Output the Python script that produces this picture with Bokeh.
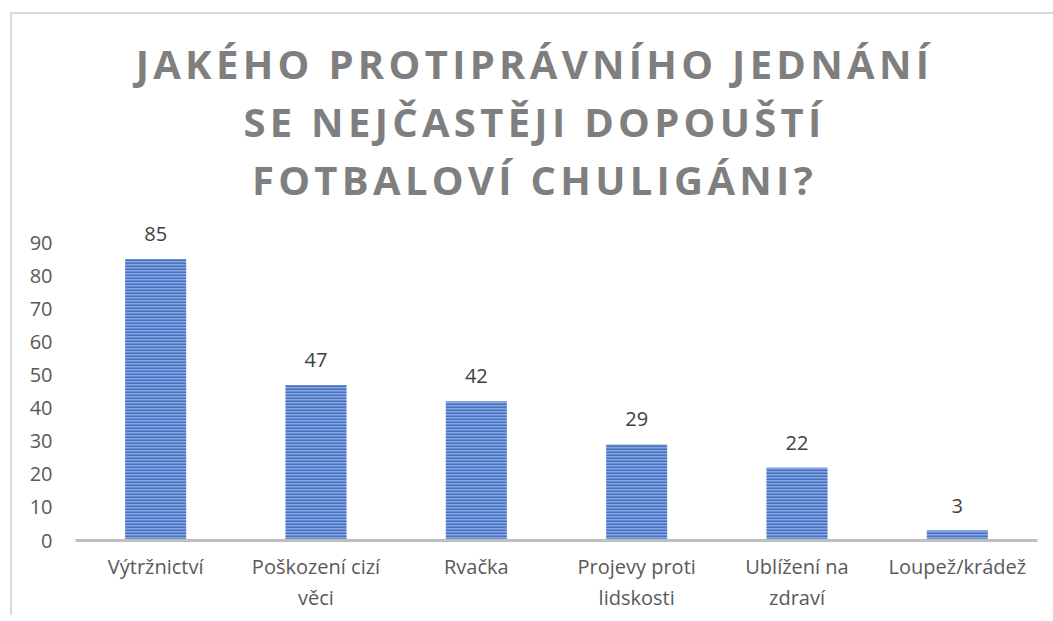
from bokeh.plotting import figure
from bokeh.models import (ColumnDataSource, FactorRange, Range1d, FixedTicker, LabelSet,
                          CategoricalAxis, CustomJSTickFormatter, Div)
from bokeh.layouts import column
from bokeh.core.properties import value
from bokeh.embed import file_html
from bokeh.resources import INLINE

# ---- data ----
categories = ["Výtržnictví", "Poškození cizí věci", "Rvačka", "Projevy proti lidskosti",
              "Ublížení na zdraví", "Loupež/krádež"]
label_line1 = ["Výtržnictví", "Poškození cizí", "Rvačka", "Projevy proti",
               "Ublížení na", "Loupež/krádež"]
label_line2 = ["", "věci", "", "lidskosti", "zdraví", ""]
counts = [85, 47, 42, 29, 22, 3]
y_ticks = [0, 10, 20, 30, 40, 50, 60, 70, 80, 90]
title_lines = ["JAKÉHO PROTIPRÁVNÍHO JEDNÁNÍ", "SE NEJČASTĚJI DOPOUŠTÍ", "FOTBALOVÍ CHULIGÁNI?"]

FONT = "Open Sans"

source = ColumnDataSource(data=dict(cat=categories, val=counts, lab=[str(v) for v in counts]))

title_html = (
    '<div style="padding-top:16px; padding-left:16px; width:1019px; text-align:center; '
    'font-family:\'Open Sans\'; font-weight:bold; font-size:40px; line-height:58px; '
    'letter-spacing:4.3px; color:#7f7f7f; white-space:nowrap;">'
    + "<br>".join(title_lines) + "</div>"
)
title_div = Div(text=title_html, width=1035, height=180)

p = figure(
    x_range=FactorRange(factors=categories, range_padding=0),
    y_range=Range1d(0, 90 * 321 / 298),
    frame_width=962, frame_height=321,
    min_border_left=63, min_border_top=15, min_border_right=10, min_border_bottom=75,
    output_backend="svg", toolbar_location=None, title=None,
    background_fill_color="white", border_fill_color="white",
)
p.outline_line_color = None

p.vbar(x="cat", top="val", width=0.38, source=source,
       fill_color="#8aa6de", line_color=None,
       hatch_pattern="horizontal_line", hatch_color="#4472c4",
       hatch_scale=3, hatch_weight=2)

labels = LabelSet(x="cat", y="val", text="lab", source=source,
                  text_align="center", text_baseline="alphabetic", y_offset=18,
                  text_font=value(FONT), text_font_size="20px", text_color="#404040")
p.add_layout(labels)

# axes
p.xgrid.grid_line_color = None
p.ygrid.grid_line_color = None

fmt_code = "const i = cats.indexOf(tick); return i >= 0 ? names[i] : tick;"

xa = p.xaxis[0]
xa.axis_line_color = "#bfbfbf"
xa.axis_line_width = 3
xa.major_tick_line_color = None
xa.minor_tick_line_color = None
xa.formatter = CustomJSTickFormatter(args=dict(cats=categories, names=label_line1), code=fmt_code)
xa.major_label_text_font = FONT
xa.major_label_text_font_size = "20px"
xa.major_label_text_color = "#595959"
xa.major_label_standoff = 6
xa.major_label_orientation = "horizontal"

xa2 = CategoricalAxis(
    axis_line_color=None, major_tick_line_color=None, minor_tick_line_color=None,
    formatter=CustomJSTickFormatter(args=dict(cats=categories, names=label_line2), code=fmt_code),
    major_label_text_font=FONT, major_label_text_font_size="20px",
    major_label_text_color="#595959", major_label_standoff=-5,
    major_label_orientation="horizontal",
)
p.add_layout(xa2, "below")

ya = p.yaxis[0]
ya.ticker = FixedTicker(ticks=y_ticks)
ya.axis_line_color = None
ya.major_tick_line_color = None
ya.minor_tick_line_color = None
ya.major_label_text_font = FONT
ya.major_label_text_font_size = "20px"
ya.major_label_text_color = "#595959"
ya.major_label_standoff = 17

layout = column(title_div, p, spacing=0)
layout.styles = {"margin-left": "10px", "margin-top": "12px",
                 "border-left": "2px solid #d9d9d9", "border-top": "2px solid #d9d9d9"}

open("out.html", "w").write(file_html(layout, INLINE))
